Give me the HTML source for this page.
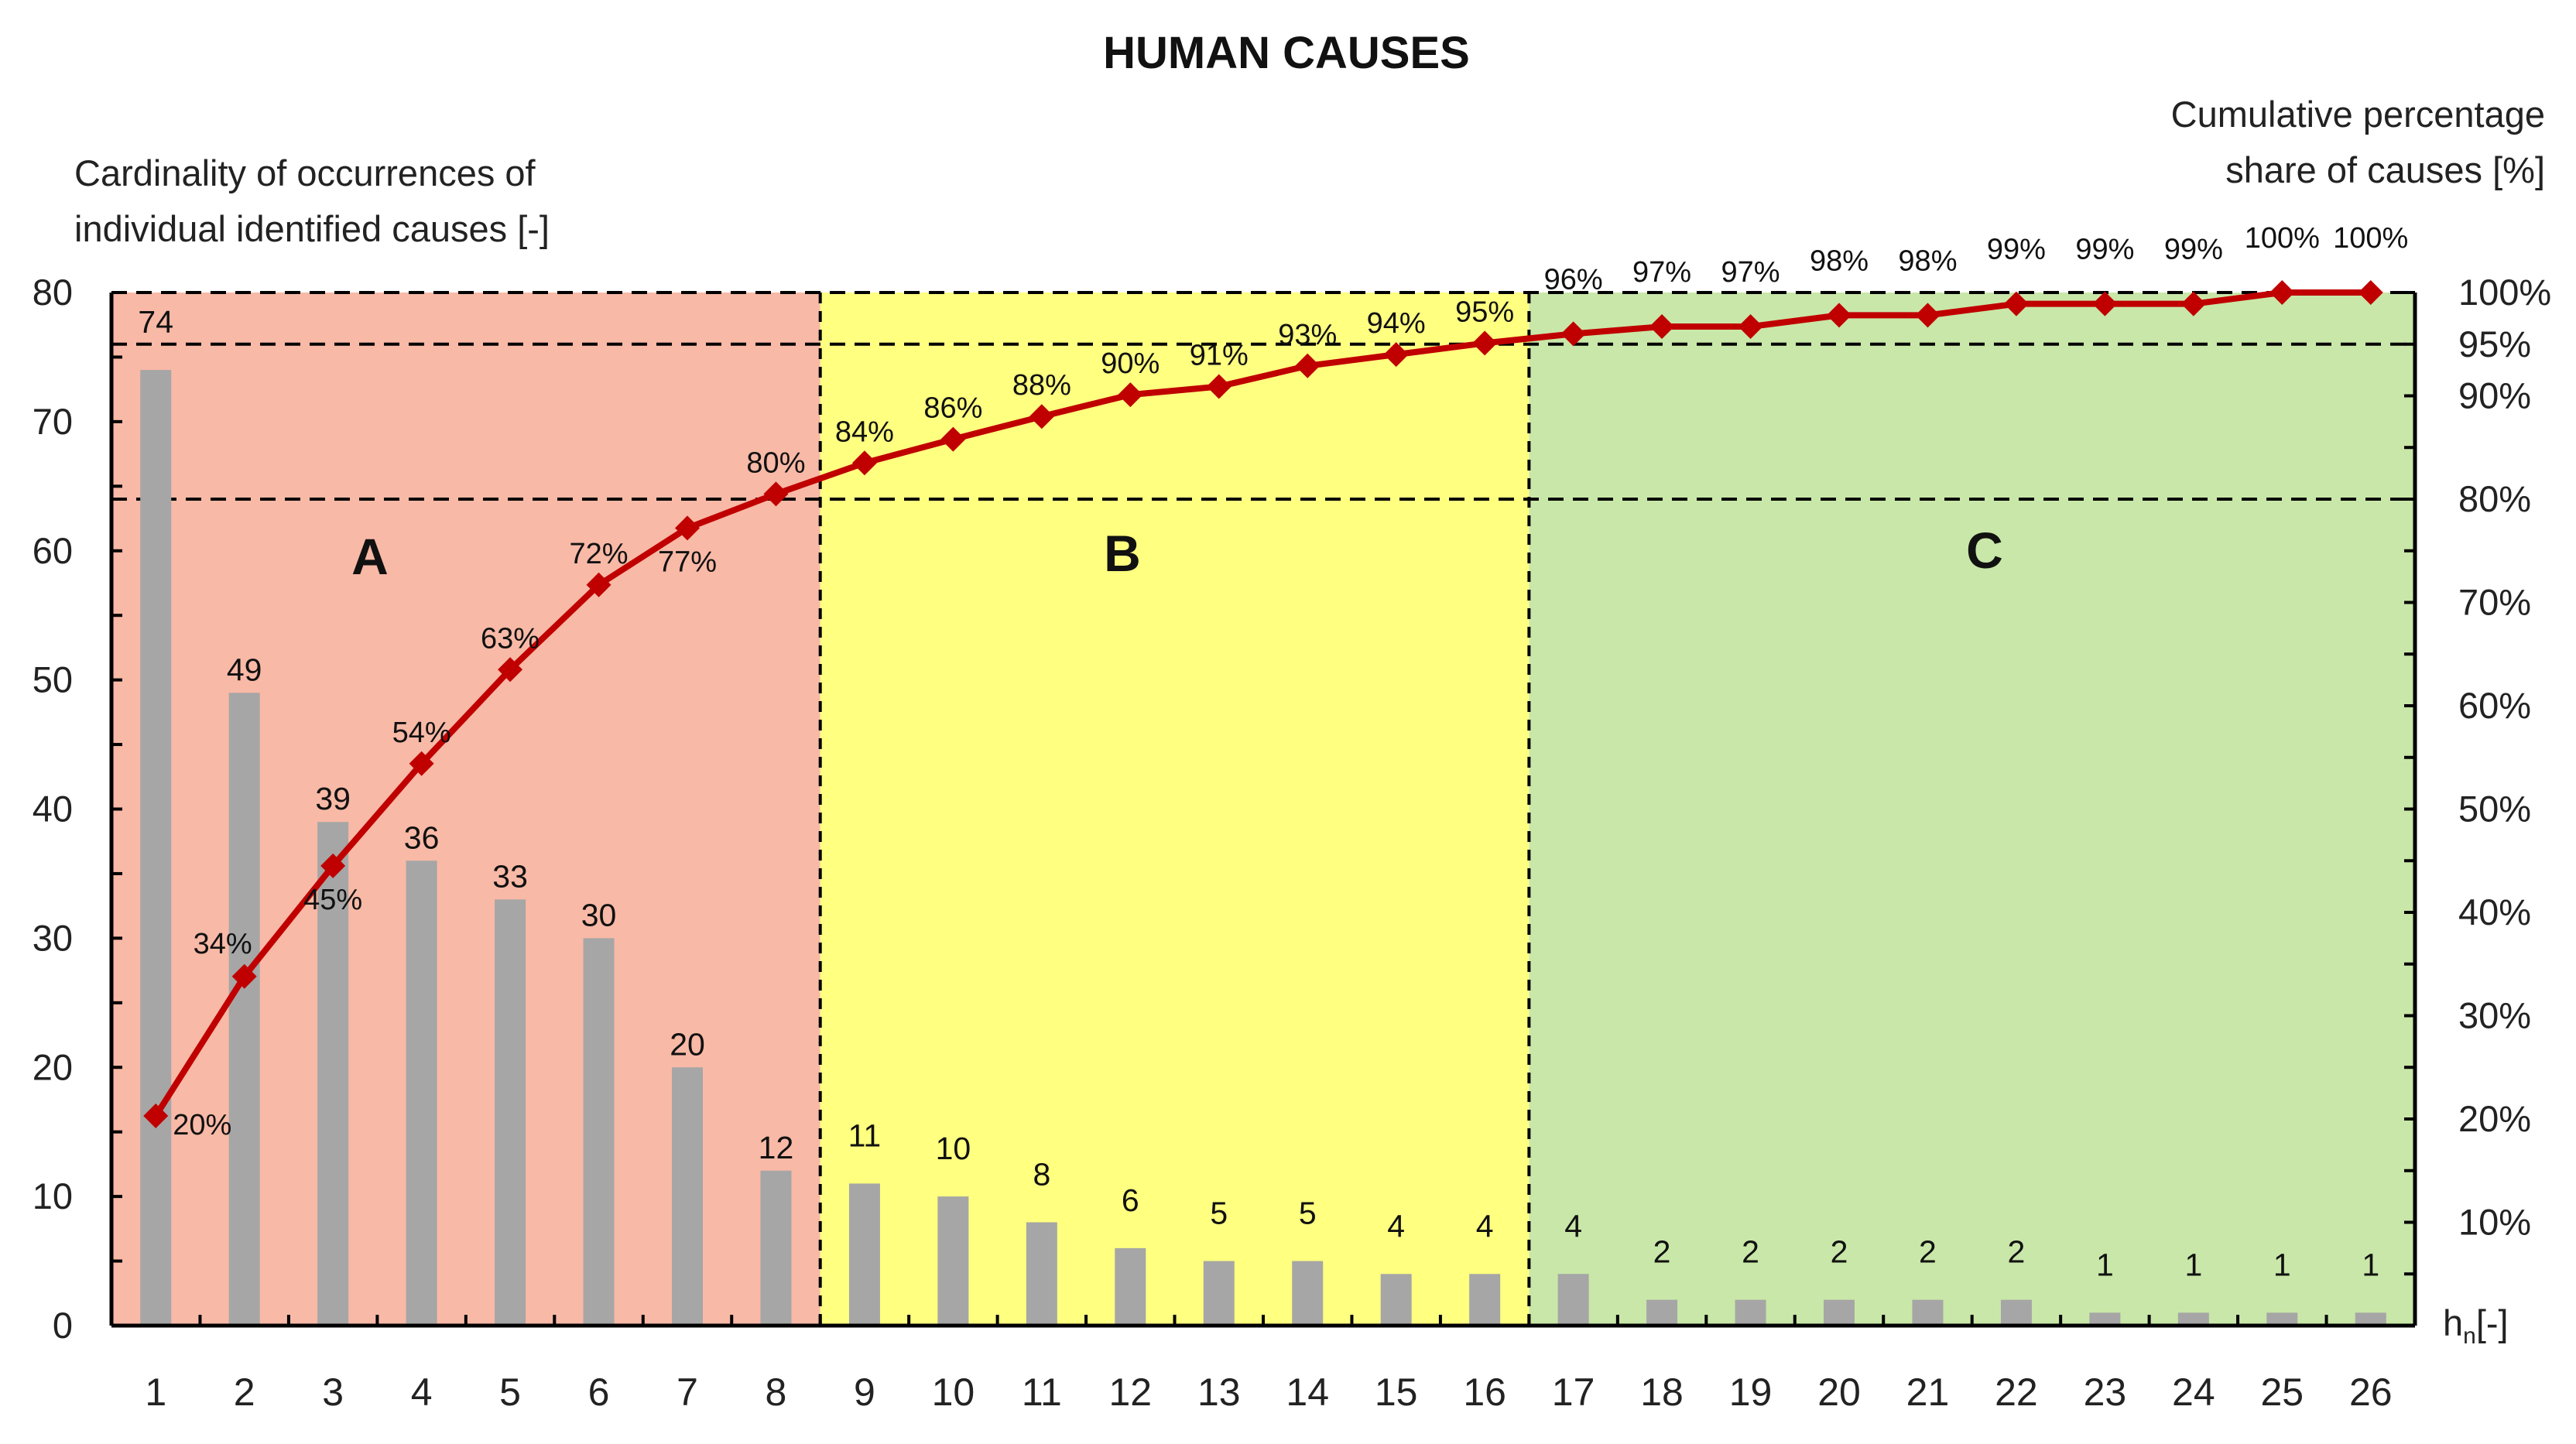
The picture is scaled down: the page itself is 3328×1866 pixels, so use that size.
<!DOCTYPE html>
<html><head><meta charset="utf-8">
<style>
html,body{margin:0;padding:0;background:#fff;}
svg{display:block;font-family:"Liberation Sans","DejaVu Sans",sans-serif;}
</style></head>
<body>
<svg id="chart" width="3328" height="1866" viewBox="0 0 3328 1866" xmlns="http://www.w3.org/2000/svg">
<rect x="0" y="0" width="3328" height="1866" fill="#fff"/>
<text x="1662" y="88" text-anchor="middle" font-size="58" font-weight="bold" fill="#111">HUMAN CAUSES</text>
<text x="96" y="240" font-size="47" fill="#222"><tspan x="96">Cardinality of occurrences of</tspan><tspan x="96" dy="72">individual identified causes [-]</tspan></text>
<text x="3288" y="164" text-anchor="end" font-size="47" fill="#222"><tspan x="3288">Cumulative percentage</tspan><tspan x="3288" dy="72">share of causes [%]</tspan></text>
<g id="zones"></g>
<g id="grid"></g>
<g id="bars"></g>
<g id="line"></g>
<g id="axes"></g>
<g id="labels"></g>
</svg>
<script>
const categories = ["1","2","3","4","5","6","7","8","9","10","11","12","13","14","15","16","17","18","19","20","21","22","23","24","25","26"];
const counts = [74,49,39,36,33,30,20,12,11,10,8,6,5,5,4,4,4,2,2,2,2,2,1,1,1,1];
const cumulative = [20.3,33.8,44.5,54.4,63.5,71.7,77.2,80.5,83.5,85.8,88.0,90.1,90.9,92.9,94.0,95.1,96.0,96.7,96.7,97.8,97.8,98.9,98.9,98.9,100,100];
const cumLabels = ["20%","34%","45%","54%","63%","72%","77%","80%","84%","86%","88%","90%","91%","93%","94%","95%","96%","97%","97%","98%","98%","99%","99%","99%","100%","100%"];
const labelPlacement = ["right","above","below","above","above","above","below","above","above","above","above","above","above","above","above","above","high","high","high","high","high","high","high","high","high","high"];
const leftTicks = [0,10,20,30,40,50,60,70,80];
const rightTicks = [10,20,30,40,50,60,70,80,90,95,100];
const thresholds = [80,95,100];
const zoneNames = ["A","B","C"];
const zoneEnds = [8,16,26];

const NS="http://www.w3.org/2000/svg";
const X0=144,X1=3120,Y0=1713,Y1=378;
const band=(X1-X0)/categories.length;
const xc=i=>X0+band*(i+0.5);
const yL=v=>Y0-(v/80)*(Y0-Y1);
const yR=p=>Y0-(p/100)*(Y0-Y1);
function mk(tag,attrs,parent,txt){const e=document.createElementNS(NS,tag);for(const k in attrs)e.setAttribute(k,attrs[k]);if(txt!==undefined)e.textContent=txt;document.getElementById(parent).appendChild(e);return e;}

const zoneColors=["#f8b9a6","#ffff80","#c9e7a8"];
const zoneLetterPos=[[478,742],[1450,738],[2564,734]];
let start=0;
zoneEnds.forEach((end,z)=>{
  const r=mk("rect",{x:X0+start*band,y:Y1,width:(end-start)*band,height:Y0-Y1,fill:zoneColors[z]},"zones");
  
  
  const t=mk("text",{x:zoneLetterPos[z][0],y:zoneLetterPos[z][1],"text-anchor":"middle","font-size":"66","font-weight":"bold",fill:"#111"},"labels",zoneNames[z]);
  
  
  if(end<categories.length){
    const l=mk("line",{x1:X0+end*band,x2:X0+end*band,y1:Y1,y2:Y0,stroke:"#000","stroke-width":"4","stroke-dasharray":"14 10"},"grid");
    
    
  }
  start=end;
});
thresholds.forEach(p=>{
  const l=mk("line",{x1:X0,x2:X1,y1:yR(p),y2:yR(p),stroke:"#000","stroke-width":"4","stroke-dasharray":"20 12"},"grid");
  
  
});

const bw=40;
counts.forEach((v,i)=>{
  const r=mk("rect",{x:xc(i)-bw/2,y:yL(v),width:bw,height:Y0-yL(v),fill:"#a6a6a6"},"bars");
  
  
  let off=i<8?16:48;
  if(i===0)off=48;
  const t=mk("text",{x:xc(i),y:yL(v)-off,"text-anchor":"middle","font-size":"41",fill:"#111"},"labels",String(v));
  
  
});

const pts=cumulative.map((p,i)=>xc(i)+","+yR(p)).join(" ");
const pl=mk("polyline",{points:pts,fill:"none",stroke:"#c00000","stroke-width":"8","stroke-linejoin":"round"},"line");


cumulative.forEach((p,i)=>{
  const x=xc(i),y=yR(p),s=16;
  const d=mk("polygon",{points:`${x},${y-s} ${x+s},${y} ${x},${y+s} ${x-s},${y}`,fill:"#c00000"},"line");
  
  
  let tx=x,ty=y-28,anchor="middle";
  if(labelPlacement[i]==="below"){ty=y+56;}
  if(labelPlacement[i]==="high"){ty=y-58;}
  if(labelPlacement[i]==="right"){tx=x+22;ty=y+24;anchor="start";}
  if(i===1){tx=x-28;ty=y-30;}
  const t=mk("text",{x:tx,y:ty,"text-anchor":anchor,"font-size":"38",fill:"#111"},"labels",cumLabels[i]);
  
  
});

[[X0,Y1,X0,Y0],[X1,Y1,X1,Y0],[X0,Y0,X1,Y0]].forEach((c,k)=>{
  const l=mk("line",{x1:c[0],y1:c[1],x2:c[2],y2:c[3],stroke:"#000","stroke-width":"5"},"axes");
  
  
});
for(let v=0;v<=80;v+=5){
  const l=mk("line",{x1:X0,x2:X0+14,y1:yL(v),y2:yL(v),stroke:"#000","stroke-width":"4"},"axes");
  
  
}
leftTicks.forEach(v=>{
  const t=mk("text",{x:94,y:yL(v)+16,"text-anchor":"end","font-size":"47",fill:"#222"},"labels",String(v));
  
  
});
for(let p=5;p<=100;p+=5){
  const l=mk("line",{x1:X1-14,x2:X1,y1:yR(p),y2:yR(p),stroke:"#000","stroke-width":"4"},"axes");
  
  
}
rightTicks.forEach(p=>{
  const t=mk("text",{x:3176,y:yR(p)+16,"font-size":"47",fill:"#222"},"labels",p+"%");
  
  
});
categories.forEach((c,i)=>{
  if(i>0){const l=mk("line",{x1:X0+i*band,x2:X0+i*band,y1:Y0-14,y2:Y0,stroke:"#000","stroke-width":"4"},"axes");
  
  }
  const t=mk("text",{x:xc(i),y:1816,"text-anchor":"middle","font-size":"50",fill:"#222"},"labels",c);
  
  
});
const hn=mk("text",{x:3156,y:1726,"font-size":"47",fill:"#222"},"labels");


hn.innerHTML='h<tspan font-size="30" dy="10">n</tspan><tspan dy="-10">[-]</tspan>';
</script>
</body></html>
